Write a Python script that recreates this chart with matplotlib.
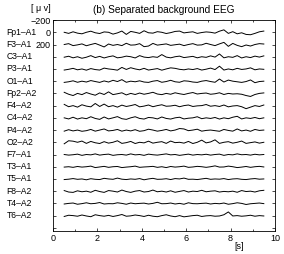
import numpy as np
import matplotlib
matplotlib.use('Agg')
from matplotlib import pyplot as plt

plt.rcParams['font.family'] = ['Liberation Sans', 'DejaVu Sans']

channels = ['Fp1\u2013A1', 'F3\u2013A1', 'C3\u2013A1', 'P3\u2013A1', 'O1\u2013A1',
            'Fp2\u2013A2', 'F4\u2013A2', 'C4\u2013A2', 'P4\u2013A2', 'O2\u2013A2',
            'F7\u2013A1', 'T3\u2013A1', 'T5\u2013A1', 'F8\u2013A2', 'T4\u2013A2', 'T6\u2013A2']

# time axis of the traces [s], one sample every 0.2 s
t = np.arange(0.5, 9.65, 0.2)

# hand-read signals [uV] (46 samples each)
fp1 = [0, 18, -8, 14, 25, 0, -18, 8, 20, -6, 0, 30, 10, -20, 35, -14, 0, 18, -25, 8, 14, -10, 0, 20, 6, -14, -20, 10, 0, -8, 18, 4, -6, 0, 14, -18, -40, 18, -10, 25, 8, 35, 40, 18, -8, -20]
f3 = [0, -14, 18, 6, -10, 20, 0, -18, 10, 40, -8, 14, 0, 18, -20, 10, 6, -14, 35, 25, -18, 10, 0, -10, 14, 4, -6, 18, 0, -14, 10, 6, -20, 0, 18, -10, -35, 30, -18, 14, 35, 8, 25, 0, -14, -8]
c3 = [8, -8, 18, 0, 25, 8, -18, 14, -6, 20, 0, -14, 18, 8, -10, 0, 20, -18, 6, 14, 0, 10, -35, 6, 18, 0, -10, 14, 4, -6, 18, 0, 10, -14, 6, -45, 18, 0, 10, -18, 20, 0, 14, -10, 6, -14]
p3 = [18, 6, -10, 14, 0, 20, -6, 10, 18, -14, 0, 8, 20, -25, 8, -20, 0, 14, -10, 18, 6, -6, 20, 0, -18, -10, 6, 14, 0, 10, -6, 18, 4, -14, 10, -45, 18, 0, 14, -10, 8, 0, -18, 14, 0, 6]
o1 = [20, 10, -6, 18, 0, 14, -10, 6, 20, -4, 14, -14, 6, -25, 18, 0, 10, -6, 14, 20, 0, -10, 18, 6, -14, 10, 18, -6, 0, 14, 20, 0, -10, 6, 18, -35, 14, -18, 0, 10, 20, 6, -20, 25, 6, 0]
fp2 = [-18, 14, 35, 0, 20, -14, 10, 30, -8, 18, -25, 20, 6, -10, 25, 0, 18, -6, 14, 0, -18, 10, 20, 0, 14, -10, 6, 18, 0, -14, 10, 0, -6, 14, 6, -10, 18, 0, 10, 6, 14, 35, 50, 18, 0, -8]
f4 = [-20, 18, 0, 25, -14, 8, 20, -35, 14, -25, 18, 0, 25, -8, 14, 0, -18, 20, 8, -10, 18, 0, -14, 10, 6, -6, 18, 0, -10, 14, 4, 0, -18, 10, 0, 14, -10, 20, 6, 0, 18, 50, 25, 0, 14, -10]
c4 = [0, 18, -10, 20, 0, 14, -18, 10, 25, -14, 18, 0, -20, 14, 25, 0, -18, 10, 20, -6, 0, 18, -14, 10, 20, 0, -10, 18, 6, 0, -18, 14, 0, 10, -6, 20, 0, 14, -10, -25, 18, 0, 10, -6, 14, 0]
p4 = [18, -6, 14, 0, 20, 10, -10, 18, 0, -18, 14, 6, -10, 18, 0, 14, -6, 20, 10, -14, 0, 18, 6, -10, 14, 0, -25, -18, 10, 0, -14, 18, 6, 0, 10, 20, -10, 6, 18, -18, 14, 0, 20, -10, 6, 0]
o2 = [25, -25, -18, 0, -20, 18, -14, 8, 20, -10, 14, 0, -25, 18, 6, -14, 20, 0, 10, -18, 14, 0, -10, 18, -20, 6, 0, 14, -14, 20, 0, -35, 10, -6, -40, 18, 0, -10, 14, 0, -20, 18, 6, -6, 14, 0]
f7 = [0, 10, 4, -6, 14, 0, 6, -10, 10, 0, -6, 14, 4, 0, 10, -10, 6, 0, 14, -6, 4, 10, 0, -10, 6, 0, 14, 4, -6, 10, 0, 6, -4, 10, 0, -6, 14, 0, 6, -10, 4, 0, 10, -4, 6, 0]
t3 = [6, 0, 10, -4, 6, 0, -10, 14, 4, -6, 10, 0, -4, 14, 6, 0, -10, 10, 4, 0, -6, 10, 0, 14, -4, 6, 0, -10, 10, 4, -6, 0, 10, 0, -14, 6, 4, -10, 0, 14, 6, -4, 10, 0, -6, 4]
t5 = [10, 4, -6, 6, 0, 14, -4, 6, 10, -10, 0, 6, -14, 4, 10, 0, 6, -6, 14, 0, -10, 6, 4, -4, 10, -6, 0, -14, 6, 4, 10, 0, -10, 6, 0, 4, -6, 10, 0, -4, 6, 10, 0, -6, 4, 0]
f8 = [-10, 14, 20, -6, 10, 0, 18, -14, 6, 20, -10, 0, 14, -18, 6, 20, 0, -10, 14, 6, -18, 10, 0, 14, -6, 18, 4, -10, 14, 0, 6, -14, 10, 0, -6, 14, 4, 10, 0, 18, -10, 6, 0, 14, -6, -14]
t4 = [10, 0, -6, 14, 4, -10, 6, 0, -14, 10, 4, 6, -10, 0, 14, -6, 6, 0, -4, 10, 0, -18, 6, 4, -6, 10, 0, 14, -10, 4, 6, 0, -4, 10, 0, 6, -6, 14, 4, -10, 0, 18, 6, 0, -6, 4]
t6 = [14, -6, 0, 10, -10, 6, 18, -14, 0, 10, -4, 14, 0, -18, 10, 4, -10, 0, 14, -6, 10, 18, 0, -14, 6, 18, 0, 20, 10, 0, -6, 14, 4, 0, 10, 6, -14, -60, 6, 0, 10, 4, -6, 10, 0, 6]

signals = [fp1, f3, c3, p3, o1, fp2, f4, c4, p4, o2, f7, t3, t5, f8, t4, t6]
spacing = 200  # uV between channels

fig = plt.figure(figsize=(2.84, 2.54), dpi=100)
ax = fig.add_axes([0.187, 0.091, 0.781, 0.83])

for i, sig in enumerate(signals):
  ax.plot(t, np.array(sig) + i * spacing, color='black', lw=0.7)

ax.set_xlim(0, 10)
ax.set_ylim(3250, -200)
ax.set_xticks(np.arange(0, 11, 2))
ax.set_xticks(np.arange(1, 10, 2), minor=True)
yt = np.arange(-200, 3201, 200)
ax.set_yticks(yt)
ax.set_yticklabels(['\u2212200', '0', '200'] + [''] * (len(yt) - 3))
ax.tick_params(direction='in', top=True, right=True, labelsize=6.5,
               length=2.5, width=0.5, pad=2)
ax.tick_params(which='minor', direction='in', top=True, length=1.5, width=0.5)
for s in ax.spines.values():
  s.set_linewidth(0.6)

for i, name in enumerate(channels):
  ax.text(-0.21, i * spacing, name, transform=ax.get_yaxis_transform(),
          ha='left', va='center', fontsize=6.2)

ax.text(-0.01, 1.035, '[ \u03bc v]', transform=ax.transAxes, ha='right',
        va='bottom', fontsize=6.5)
ax.text(0.84, -0.055, '[s]', transform=ax.transAxes, ha='center',
        va='top', fontsize=6.5)
ax.set_title('(b) Separated background EEG', fontsize=7.3, pad=5)

plt.savefig('out.png', dpi=100)
